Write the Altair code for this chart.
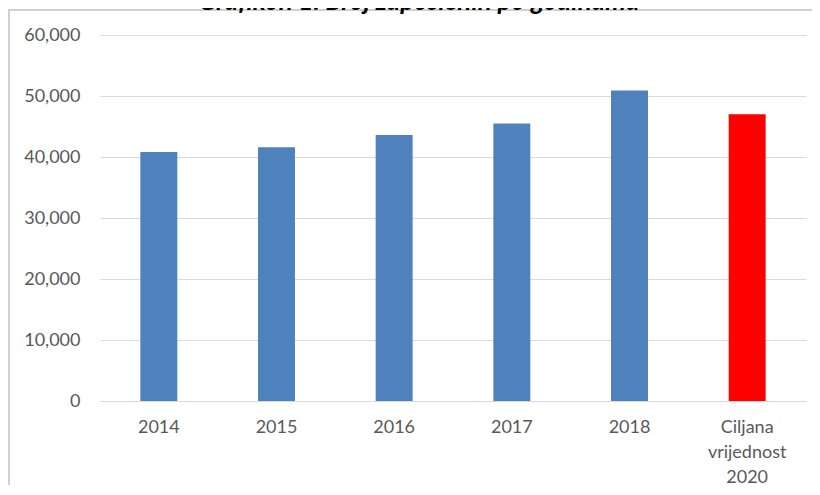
import altair as alt
import pandas as pd

# --- data ---
categories = ["2014", "2015", "2016", "2017", "2018", "Ciljana vrijednost 2020"]
values = [40800, 41600, 43600, 45500, 50900, 47000]
kinds = ["Ostvareno", "Ostvareno", "Ostvareno", "Ostvareno", "Ostvareno", "Cilj"]
y_ticks = [0, 10000, 20000, 30000, 40000, 50000, 60000]
title_text = "Grafikon 1. Broj zaposlenih po godinama"

df = pd.DataFrame({"kategorija": categories, "broj": values, "vrsta": kinds})

FONT = "Lato"
LABEL = "#595959"
GRID = "#d9d9d9"

bars = alt.Chart(df).mark_bar().encode(
    x=alt.X(
        "kategorija:N",
        sort=categories,
        title=None,
        scale=alt.Scale(paddingInner=0.686, paddingOuter=0.343),
        axis=alt.Axis(
            labelAngle=0,
            labelExpr="split(datum.label, ' ')",
            labelFont=FONT,
            labelFontSize=18,
            labelColor=LABEL,
            labelPadding=17,
            labelLineHeight=25,
            labelBaseline="top",
            ticks=False,
            tickSize=0,
            domainColor=GRID,
            domainWidth=1,
            grid=False,
        ),
    ),
    y=alt.Y(
        "broj:Q",
        title=None,
        scale=alt.Scale(domain=[0, 60000], nice=False),
        axis=alt.Axis(
            values=y_ticks,
            format=",.0f",
            labelFont=FONT,
            labelFontSize=18,
            labelColor=LABEL,
            labelPadding=20,
            ticks=False,
            tickSize=0,
            domain=False,
            gridColor=GRID,
            gridWidth=1,
        ),
    ),
    color=alt.Color(
        "vrsta:N",
        scale=alt.Scale(domain=["Ostvareno", "Cilj"], range=["#4f81bd", "#ff0000"]),
        legend=None,
    ),
)

one = alt.Data(values=[{}])

title_mark = alt.Chart(one).mark_text(
    font=FONT, fontSize=26, fontWeight="bold", fontStyle="italic",
    color="#000000", align="center", baseline="alphabetic",
).encode(x=alt.value(319), y=alt.value(-25), text=alt.value(title_text))

top_border = alt.Chart(one).mark_rule(color="#d0d0d0", strokeWidth=2).encode(
    x=alt.value(-92), x2=alt.value(712), y=alt.value(-25)
)
left_border = alt.Chart(one).mark_rule(color="#d0d0d0", strokeWidth=2).encode(
    x=alt.value(-91), y=alt.value(-25), y2=alt.value(460)
)

chart = alt.layer(bars, top_border, left_border, title_mark).properties(
    width=706,
    height=366,
    padding={"left": 92, "top": 27, "right": 6, "bottom": 84},
    autosize=alt.AutoSizeParams(type="none"),
    background="white",
).configure_view(stroke=None)

chart.save("out.html", embed_options={"renderer": "svg", "actions": False})
